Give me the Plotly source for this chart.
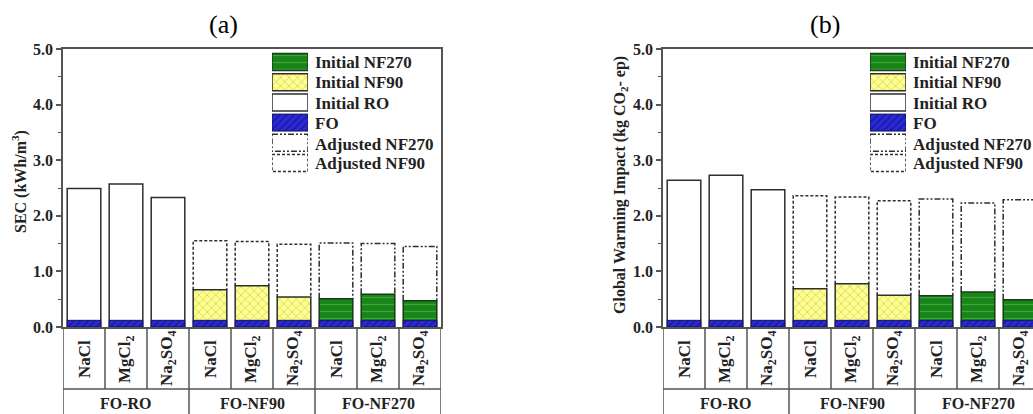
import plotly.graph_objects as go

W, H = 1033, 414

# ---------------- data ----------------
categories = ["NaCl", "MgCl<sub>2</sub>", "Na<sub>2</sub>SO<sub>4</sub>"] * 3
groups = ["FO-RO", "FO-NF90", "FO-NF270"]
process = ["RO", "RO", "RO", "NF90", "NF90", "NF90", "NF270", "NF270", "NF270"]

fo_a = [0.12, 0.12, 0.12, 0.12, 0.12, 0.12, 0.12, 0.12, 0.12]
initial_a = [2.49, 2.57, 2.33, 0.67, 0.74, 0.54, 0.51, 0.59, 0.47]
adjusted_a = [None, None, None, 1.55, 1.54, 1.49, 1.51, 1.50, 1.45]

fo_b = [0.12, 0.12, 0.12, 0.12, 0.12, 0.12, 0.12, 0.12, 0.12]
initial_b = [2.64, 2.73, 2.47, 0.69, 0.78, 0.57, 0.56, 0.63, 0.49]
adjusted_b = [None, None, None, 2.36, 2.34, 2.27, 2.30, 2.23, 2.29]

yticks = [0, 1, 2, 3, 4, 5]
ytick_labels = ["0.0", "1.0", "2.0", "3.0", "4.0", "5.0"]

legend_labels = ["Initial NF270", "Initial NF90", "Initial RO", "FO",
                 "Adjusted NF270", "Adjusted NF90"]

# ---------------- styles ----------------
FONT = "Liberation Serif"
LINE = "#2e2e2e"
AX = "#555555"
styles = {
    "RO": dict(color="white", line=dict(color=LINE, width=1.5)),
    "NF90": dict(color="#ffff8c", line=dict(color=LINE, width=1.5),
                 pattern=dict(shape="x", fgcolor="#8a8a50", bgcolor="#ffff8c", size=6, solidity=0.2)),
    "NF270": dict(color="#178517", line=dict(color="#1a3a1a", width=1.5),
                  pattern=dict(shape="-", fgcolor="#66c266", bgcolor="#178517", size=7, solidity=0.18)),
    "FO": dict(color="#2828d0", line=dict(color="#15155a", width=1),
               pattern=dict(shape="/", fgcolor="#0c0c7a", bgcolor="#2a2ad6", size=5, solidity=0.35)),
}
dash_style = {"NF90": "3px,2px", "NF270": "6px,2px,2px,2px,2px,2px"}


def px(p):
    return p / W


def py(p):
    return (H - p) / H


fig = go.Figure()
BW = 0.8


def add_panel(xa, ya, fo, initial, adjusted):
    n = len(initial)
    for proc in ["RO", "NF90", "NF270"]:
        idx = [i for i in range(n) if process[i] == proc]
        fig.add_trace(go.Bar(
            x=idx, y=[initial[i] for i in idx], base=0, width=BW,
            marker=styles[proc], xaxis=xa, yaxis=ya, showlegend=False, hoverinfo="skip"))
    fig.add_trace(go.Bar(
        x=list(range(n)), y=fo, base=0, width=BW,
        marker=styles["FO"], xaxis=xa, yaxis=ya, showlegend=False, hoverinfo="skip"))
    for proc in ["NF90", "NF270"]:
        xs, ys = [], []
        for i in range(n):
            if process[i] == proc and adjusted[i] is not None:
                xs += [i - BW / 2, i - BW / 2, i + BW / 2, i + BW / 2, None]
                ys += [initial[i], adjusted[i], adjusted[i], initial[i], None]
        fig.add_trace(go.Scatter(
            x=xs, y=ys, mode="lines", line=dict(color=LINE, width=1.5, dash=dash_style[proc]),
            xaxis=xa, yaxis=ya, showlegend=False, hoverinfo="skip"))


add_panel("x", "y", fo_a, initial_a, adjusted_a)
add_panel("x2", "y2", fo_b, initial_b, adjusted_b)


def add_legend(xa, ya):
    order = ["NF270", "NF90", "RO", "FO"]
    for r, key in enumerate(order):
        fig.add_trace(go.Bar(
            x=[1], y=[r], base=0, width=0.84, orientation="h",
            marker=styles[key], xaxis=xa, yaxis=ya, showlegend=False, hoverinfo="skip"))
    for r, key in [(4, "NF270"), (5, "NF90")]:
        h = 0.42
        fig.add_trace(go.Scatter(
            x=[0, 1, 1, 0, 0], y=[r - h, r - h, r + h, r + h, r - h], mode="lines",
            line=dict(color=LINE, width=1.5, dash=dash_style[key]),
            xaxis=xa, yaxis=ya, showlegend=False, hoverinfo="skip"))


add_legend("x3", "y3")
add_legend("x4", "y4")

tickfont = dict(family=FONT, size=16, color="#222", weight="bold")
common_x = dict(showline=True, linecolor=AX, linewidth=1.5, mirror=True, showticklabels=False,
                ticks="", showgrid=False, zeroline=False, automargin=False)
common_y = dict(range=[0, 5], tickvals=yticks, ticktext=ytick_labels, ticks="outside", ticklen=5,
                tickcolor=AX, tickwidth=1.5, showline=True, linecolor=AX, linewidth=1.5, mirror=True,
                showgrid=False, zeroline=False, tickfont=tickfont, automargin=False,
                minor=dict(dtick=0.5, ticks="outside", ticklen=3, tickcolor=AX, tickwidth=1))

y_dom = [py(327), py(49)]
fig.update_layout(
    width=W, height=H, margin=dict(l=0, r=0, t=0, b=0, pad=0),
    paper_bgcolor="white", plot_bgcolor="white", barmode="overlay",
    xaxis=dict(domain=[px(63), px(441)], range=[-0.5, 8.5], **common_x),
    yaxis=dict(domain=y_dom, anchor="x", **common_y),
    xaxis2=dict(domain=[px(663), 1.0], range=[-0.5, -0.5 + (W - 663) / 42.0], anchor="y2", **common_x),
    yaxis2=dict(domain=y_dom, anchor="x2", **common_y),
    xaxis3=dict(domain=[px(272), px(308)], range=[0, 1], visible=False, anchor="y3"),
    yaxis3=dict(domain=[py(173), py(52)], range=[5.5, -0.5], visible=False, anchor="x3"),
    xaxis4=dict(domain=[px(870), px(906)], range=[0, 1], visible=False, anchor="y4"),
    yaxis4=dict(domain=[py(173), py(52)], range=[5.5, -0.5], visible=False, anchor="x4"),
)

shapes = []
annotations = []
bold16 = dict(family=FONT, size=16, color="#222", weight="bold")
bold17 = dict(family=FONT, size=17, color="#222", weight="bold")
for xr, xmax in [("x", 8.5), ("x2", 8.5)]:
    for b in range(10):
        xb = b - 0.5
        bottom = py(414) if b % 3 == 0 else py(389)
        shapes.append(dict(type="line", xref=xr, yref="paper", x0=xb, x1=xb, y0=py(327), y1=bottom,
                           line=dict(color=AX, width=1.5)))
    shapes.append(dict(type="line", xref=xr, yref="paper", x0=-0.5, x1=xmax, y0=py(389), y1=py(389),
                       line=dict(color=AX, width=1.5)))
    for i, c in enumerate(categories):
        annotations.append(dict(xref=xr, yref="paper", x=i, y=py(359), text=c, textangle=-90,
                                xanchor="center", yanchor="middle",
                                showarrow=False, font=bold17))
    for g, name in enumerate(groups):
        annotations.append(dict(xref=xr, yref="paper", x=3 * g + 1, y=py(403), text=name,
                                xanchor="center", yanchor="middle",
                                showarrow=False, font=bold16))

rows_y = [62, 82.5, 103, 123, 144, 163]
for lx in [313, 911]:
    for lab, ry in zip(legend_labels, rows_y):
        annotations.append(dict(xref="paper", yref="paper", x=px(lx), y=py(ry), xanchor="left",
                                yanchor="middle", text=lab, showarrow=False, font=bold17))

annotations.append(dict(xref="paper", yref="paper", x=px(20), y=py(182), text="SEC (kWh/m<sup>3</sup>)",
                        textangle=-90, showarrow=False, xanchor="center", yanchor="middle", font=bold16))
annotations.append(dict(xref="paper", yref="paper", x=px(620), y=py(185),
                        text="Global Warming Impact (kg CO<sub>2</sub>- ep)",
                        textangle=-90, showarrow=False, xanchor="center", yanchor="middle", font=bold16))
annotations.append(dict(xref="paper", yref="paper", x=px(223), y=py(24), text="(a)", showarrow=False,
                        xanchor="center", yanchor="middle",
                        font=dict(family=FONT, size=26, color="black")))
annotations.append(dict(xref="paper", yref="paper", x=px(825), y=py(24), text="(b)", showarrow=False,
                        xanchor="center", yanchor="middle",
                        font=dict(family=FONT, size=26, color="black")))

fig.update_layout(shapes=shapes, annotations=annotations)
fig.write_html("out.html")
